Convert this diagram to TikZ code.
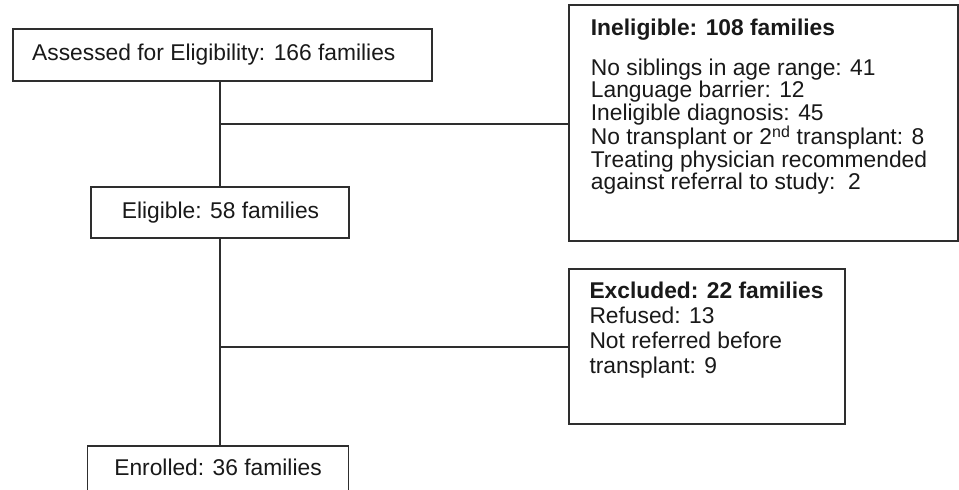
\documentclass[tikz,border=0pt]{standalone}
\usepackage{fontspec}
\setmainfont{Liberation Sans}
\newcommand\myfs{\fontsize{22.8}{20.7}\selectfont}
\begin{document}
\begin{tikzpicture}[x=1pt,y=-1pt,
  box/.style={draw=black!82, line width=1.4pt, rectangle, inner sep=0pt},
  lbl/.style={anchor=base west, inner sep=0pt, font=\myfs, text=black!90},
  clbl/.style={anchor=base, inner sep=0pt, font=\myfs, text=black!90},
  conn/.style={draw=black!82, line width=1.4pt}]
\clip (0,0) rectangle (959,490);
\fill[white] (0,0) rectangle (959,490);
% boxes
\node[box, minimum width=419pt, minimum height=52pt] (assessed) at (222.5,55) {};
\node[box, minimum width=258pt, minimum height=51pt] (eligible) at (220,212.5) {};
\node[box, minimum width=261pt, minimum height=80pt] (enrolled) at (218,486) {};
\node[box, minimum width=389pt, minimum height=236pt] (inelig) at (763.5,123) {};
\node[box, minimum width=276pt, minimum height=155pt] (excl) at (707,346.5) {};
% texts
\node[lbl] (tA) at (32,60.7) {Assessed for Eligibility: 166 families};
\node[clbl] (tE) at (220.5,218) {Eligible: 58 families};
\node[clbl] (tR) at (218,475.7) {Enrolled: 36 families};
\node[lbl] (i0) at (590.7,35) {\bfseries Ineligible: 108 families};
% base anchor of a multi-line node is the baseline of its last line
\node[lbl, align=left] (ilist) at (590.7,189.5) {No siblings in age range: 41\\
Language barrier: 12\\
Ineligible diagnosis: 45\\
No transplant or 2\textsuperscript{nd} transplant: 8\\
Treating physician recommended\\
against referral to study:\ \ 2};
\node[lbl] (x0) at (589.3,298.3) {\bfseries Excluded: 22 families};
\node[lbl] (x1) at (589.3,323.3) {Refused: 13};
\node[lbl] (x2) at (589.3,348.3) {Not referred before};
\node[lbl] (x3) at (589.3,373.3) {transplant: 9};
% connectors
\coordinate (b1) at (220,124);
\coordinate (b2) at (220,347);
\draw[conn] (eligible.north) -- (eligible.north |- assessed.south);
\draw[conn] (b1) -- (b1 -| inelig.west);
\draw[conn] (eligible.south) -- (eligible.south |- enrolled.north);
\draw[conn] (b2) -- (b2 -| excl.west);
\end{tikzpicture}
\end{document}
